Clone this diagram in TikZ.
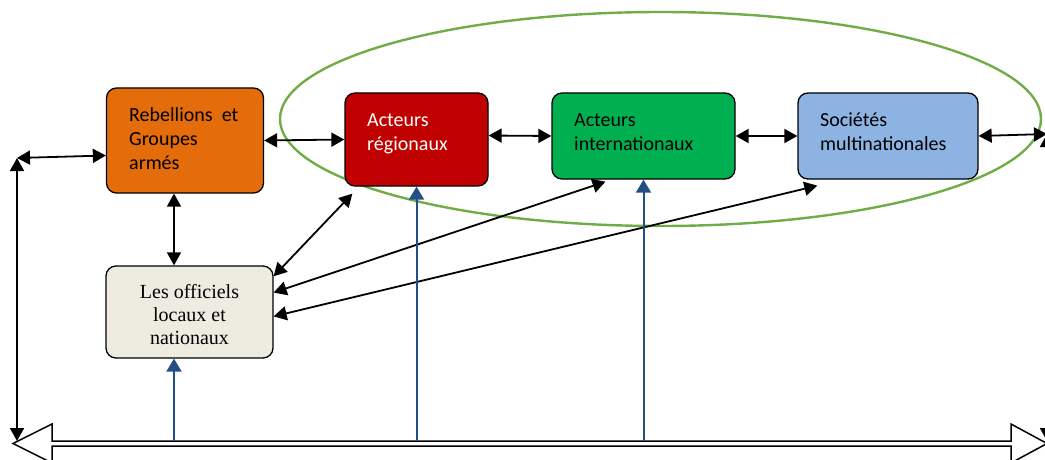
\documentclass[tikz,border=0pt]{standalone}
\usepackage{fontspec}
\setmainfont{Liberation Serif}
\newfontfamily\calibri{Carlito}
\usepackage{tikz}
\usetikzlibrary{positioning, arrows.meta, calc}

\definecolor{rebelorange}{HTML}{E46C0A}
\definecolor{regionred}{HTML}{C00000}
\definecolor{intergreen}{HTML}{00B050}
\definecolor{multiblue}{HTML}{8DB3E2}
\definecolor{officbeige}{HTML}{EEECE1}
\definecolor{ringgreen}{HTML}{70AD47}
\definecolor{pushblue}{HTML}{244E86}

\tikzset{
    box/.style={draw=black, line width=1.3pt, rounded corners=10pt, inner sep=0pt},
    boxtext/.style={font=\calibri\fontsize{20}{24}\selectfont, align=left, inner sep=0pt, anchor=base west},
    link/.style={line width=1.8pt, {Triangle[length=13pt,width=14pt]}-{Triangle[length=13pt,width=14pt]}},
    push/.style={draw=pushblue, line width=2pt, -{Triangle[length=13pt,width=15pt]}, pushblue}
}

\begin{document}
\begin{tikzpicture}[x=1pt, y=-1pt]
    \useasboundingbox (0,0) rectangle (1045,460);

    % ring round the outside actors
    \draw[ringgreen, line width=2.4pt] (660.5,119) ellipse [x radius=380.5, y radius=107];

    % boxes
    \foreach \name/\cx/\cy/\w/\h/\co in {
        rebel/185/140.5/157/105/rebelorange,
        region/416.5/139.5/143/93/regionred,
        inter/643.5/136/183/86/intergreen,
        multi/888/136/180/86/multiblue,
        offic/189.5/312/167/92/officbeige}{

        \node[box, fill=\co, minimum width=\w, minimum height=\h] (\name) at (\cx,\cy) {};
    }

    % texts (base = last line)
    \node[boxtext] (rebeltext) at (129,169) {Rebellions~ et\\Groupes\\armés};
    \node[boxtext, text=white] (regiontext) at (367,150) {Acteurs\\régionaux};
    \node[boxtext] (intertext) at (574,150) {Acteurs\\internationaux};
    \node[boxtext] (multitext) at (820,150) {Sociétés\\multinationales};
    \node[align=center, font=\fontsize{20}{23}\selectfont, inner sep=0pt] (offictext)
        at ([yshift=-3pt]offic.center) {Les officiels\\locaux et\\nationaux};

    % double arrow at the bottom
    \draw[line width=1.5pt, fill=white]
        (13,443.5) -- (52,424) -- (52,441) -- (1011,441) -- (1011,424) -- (1047,443.5)
        -- (1011,463) -- (1011,446) -- (52,446) -- (52,463) -- cycle;

    \coordinate (leftcorner) at (17,158);
    \coordinate (leftfoot) at (17,441);
    \coordinate (rightcorner) at (1047,134);
    \coordinate (rightfoot) at (1047,441);
    \coordinate (bartop) at (0,441);

    % black links
    \draw[link] (leftcorner) -- ([yshift=-15pt]rebel.west);
    \draw[link] (leftfoot) -- (leftcorner);
    \draw[link] (rebel.east) -- (region.west);
    \draw[link] ([yshift=4pt]region.east) -- (inter.west);
    \draw[link] (inter.east) -- (multi.west);
    \draw[link] (multi.east) -- (rightcorner);
    \draw[link] (rightfoot) -- (rightcorner);
    \draw[link] ([xshift=-11pt]rebel.south) -- ([xshift=-11pt]rebel.south |- offic.north);
    \draw[link] (offic.23) -- ([shift={(8,7)}]region.south west);
    \draw[link] (offic.13) -- ([shift={(-38,2)}]inter.south);
    \draw[link] (offic.-3) -- ([shift={(20,6)}]multi.south west);

    % blue arrows up from the bottom
    \foreach \target/\dx in {offic/-15.5, region/0, inter/0}{
        \draw[push] ([xshift=\dx pt]\target.south |- bartop) -- ([xshift=\dx pt]\target.south);
    }
\end{tikzpicture}
\end{document}
